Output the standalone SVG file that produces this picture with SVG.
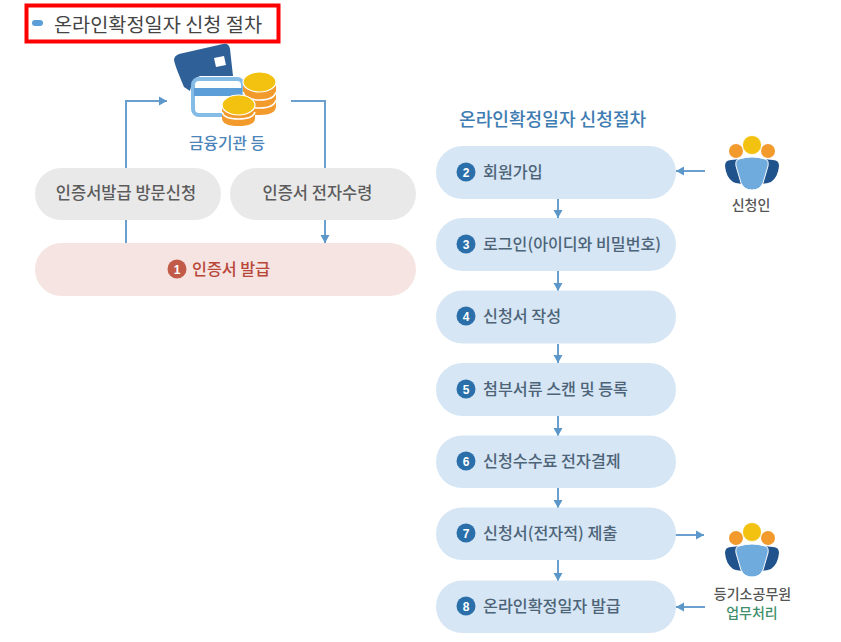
<svg xmlns="http://www.w3.org/2000/svg" width="841" height="642" viewBox="0 0 841 642">
<style>
text{font-family:"Noto Sans CJK KR","Noto Sans",sans-serif}
.gray{fill:#e9e9e9}.blue{fill:#d6e6f5}
.lbl{font-size:16.200px;font-weight:500;fill:#4d6478}
.glbl{font-size:16.500px;font-weight:500;fill:#5c5c5c;text-anchor:middle}
.bdg{fill:#2a6faa}
.num{font-size:12px;font-weight:700;fill:#fff;text-anchor:middle;font-family:"Liberation Sans",sans-serif}
.con{fill:none;stroke:#6ba0ce;stroke-width:2}
.sm{font-size:14px;font-weight:500;text-anchor:middle}
</style>
<defs>
<marker id="a" markerUnits="userSpaceOnUse" markerWidth="10" markerHeight="10" refX="8" refY="5" orient="auto"><path d="M0 0.5L8 5L0 9.500Z" fill="#5b97c9"/></marker>
<g id="person">
<path d="M-27 -3Q-27 -9 -21 -9L-11 -10L-5 15Q-14 15 -19 13Q-26 8 -27 -3Z" fill="#20528c"/>
<path d="M27 -3Q27 -9 21 -9L11 -10L5 15Q14 15 19 13Q26 8 27 -3Z" fill="#20528c"/>
<path d="M-13 -10Q0 -14 13 -10Q17 -9 16 -3L11 14Q8 21 0 21Q-8 21 -11 14L-16 -3Q-17 -9 -13 -10Z" fill="#6fabdc" stroke="#fff" stroke-width="1"/>
<circle cx="-16" cy="-18" r="7" fill="#f39a2d"/>
<circle cx="16" cy="-18" r="7" fill="#f39a2d"/>
<circle cx="0" cy="-24" r="9.500" fill="#f3c10f" stroke="#fff" stroke-width="0.8"/>
</g>
</defs>
<g id="heading">
<rect x="26.500" y="5.500" width="252" height="36" fill="#fff" stroke="#f00" stroke-width="4"/>
<rect x="32" y="20" width="11" height="6" rx="3" fill="#5c9fd8"/>
<text x="54" y="32" font-size="19.700" fill="#444">온라인확정일자 신청 절차</text>
</g>
<g id="connectors">
<path class="con" d="M126 168V101H167" marker-end="url(#a)"/>
<path class="con" d="M126 220V243"/>
<path class="con" d="M291 101H325V168"/>
<path class="con" d="M325 220V243" marker-end="url(#a)"/>
<path class="con" d="M558 199V218" marker-end="url(#a)"/>
<path class="con" d="M558 271V291" marker-end="url(#a)"/>
<path class="con" d="M558 344V363" marker-end="url(#a)"/>
<path class="con" d="M558 416V436" marker-end="url(#a)"/>
<path class="con" d="M558 488V508" marker-end="url(#a)"/>
<path class="con" d="M558 560V581" marker-end="url(#a)"/>
<path class="con" d="M705 171H676" marker-end="url(#a)"/>
<path class="con" d="M675 535H704" marker-end="url(#a)"/>
<path class="con" d="M705 607H676" marker-end="url(#a)"/>
</g>
<g id="bank">
<path d="M179 54L223 44Q229 43 230 49L233 76L200 76Q192 78 190 91L184 87Q175 66 174 60Q174 56 179 54Z" fill="#2f6097"/>
<path d="M214 58L224 56L226 65L216 67Z" fill="#fff"/>
<rect x="193" y="79" width="50" height="36" rx="6" fill="#fff" stroke="#85bce6" stroke-width="4"/>
<rect x="194" y="88" width="48" height="8" fill="#5c9fd8"/>
<g id="coin-top">
<path d="M243 82V106Q243 115 259.500 115Q276 115 276 106V82Z" fill="#f39a2d"/>
<path d="M243 92Q245 100 259.500 100Q274 100 276 92M243 100Q245 108 259.500 108Q274 108 276 100" fill="none" stroke="#fff" stroke-width="1.500"/>
<ellipse cx="259.500" cy="82" rx="16.500" ry="10" fill="#f3c10f" stroke="#fff" stroke-width="1.200"/>
</g>
<g id="coin-front">
<path d="M222 105V118Q222 126 238.500 126Q255 126 255 118V105Z" fill="#f39a2d"/>
<path d="M222 112Q224 119 238.500 119Q253 119 255 112" fill="none" stroke="#fff" stroke-width="1.500"/>
<ellipse cx="238.500" cy="105" rx="16.500" ry="10" fill="#f3c10f" stroke="#fff" stroke-width="1.200"/>
</g>
<text x="227" y="149" font-size="15.800px" font-weight="500" fill="#4a84b8" text-anchor="middle">금융기관 등</text>
</g>
<g id="n-visit"><rect class="gray" x="35" y="168" width="186" height="52" rx="26"/><text class="glbl" x="126" y="199">인증서발급 방문신청</text></g>
<g id="n-receive"><rect class="gray" x="230" y="168" width="186" height="52" rx="26"/><text class="glbl" x="317.500" y="199">인증서 전자수령</text></g>
<g id="n1"><rect x="35" y="243" width="381" height="53" rx="26.500" fill="#f5e4e1"/><circle cx="177" cy="269" r="9.500" fill="#c25a48"/><text class="num" x="177" y="273.500">1</text><text x="192" y="275" font-size="16.200px" font-weight="500" fill="#b8473a">인증서 발급</text></g>
<text x="459" y="126" font-size="18.100px" font-weight="500" fill="#3f7cb2">온라인확정일자 신청절차</text>
<g id="n2"><rect class="blue" x="436" y="146" width="240" height="53" rx="26.500"/><circle class="bdg" cx="466" cy="172" r="9.500"/><text class="num" x="466" y="176.500">2</text><text class="lbl" x="483" y="178">회원가입</text></g>
<g id="n3"><rect class="blue" x="436" y="218" width="240" height="53" rx="26.500"/><circle class="bdg" cx="466" cy="244" r="9.500"/><text class="num" x="466" y="248.500">3</text><text class="lbl" x="483" y="250" textLength="178" lengthAdjust="spacingAndGlyphs">로그인(아이디와 비밀번호)</text></g>
<g id="n4"><rect class="blue" x="436" y="290.500" width="240" height="53" rx="26.500"/><circle class="bdg" cx="466" cy="316" r="9.500"/><text class="num" x="466" y="320.500">4</text><text class="lbl" x="483" y="321.500">신청서 작성</text></g>
<g id="n5"><rect class="blue" x="436" y="363" width="240" height="53" rx="26.500"/><circle class="bdg" cx="466" cy="389" r="9.500"/><text class="num" x="466" y="393.500">5</text><text class="lbl" x="483" y="394.500">첨부서류 스캔 및 등록</text></g>
<g id="n6"><rect class="blue" x="436" y="435.500" width="240" height="52.500" rx="26"/><circle class="bdg" cx="466" cy="461" r="9.500"/><text class="num" x="466" y="465.500">6</text><text class="lbl" x="483" y="466.500">신청수수료 전자결제</text></g>
<g id="n7"><rect class="blue" x="436" y="507.500" width="240" height="52.500" rx="26"/><circle class="bdg" cx="466" cy="533" r="9.500"/><text class="num" x="466" y="537.500">7</text><text class="lbl" x="483" y="539">신청서(전자적) 제출</text></g>
<g id="n8"><rect class="blue" x="436" y="580.500" width="240" height="52.500" rx="26"/><circle class="bdg" cx="466" cy="606" r="9.500"/><text class="num" x="466" y="610.500">8</text><text class="lbl" x="483" y="611.500">온라인확정일자 발급</text></g>
<g id="applicant"><use href="#person" x="752" y="169"/><text class="sm" x="751" y="210" fill="#555">신청인</text></g>
<g id="officer"><use href="#person" x="752" y="556"/><text class="sm" x="752.500" y="599" fill="#555">등기소공무원</text><text class="sm" x="752" y="618" fill="#3f8f6c">업무처리</text></g>
</svg>
